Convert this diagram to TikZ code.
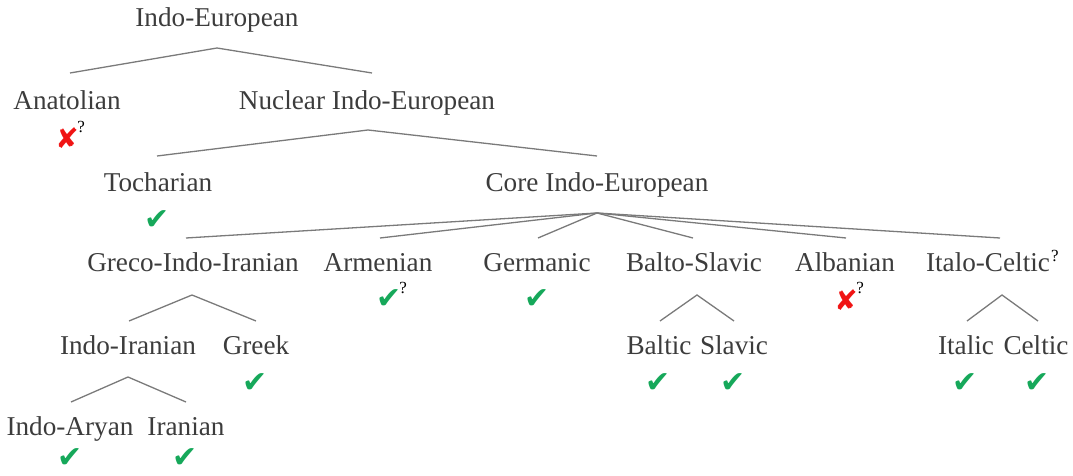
\documentclass[tikz,border=0pt]{standalone}
\usepackage{fontspec}
\setmainfont{Liberation Serif}
\newfontfamily\symfont{DejaVu Sans}
\definecolor{txtgray}{HTML}{3C3C3C}
\definecolor{linegray}{HTML}{7A7A7A}
\definecolor{okgreen}{HTML}{16A85A}
\definecolor{badred}{HTML}{F01414}
\tikzset{
  lang/.style={anchor=base, inner sep=0pt, text=txtgray, font=\fontsize{13.6}{16}\selectfont},
  yes/.style={inner sep=0pt, text=okgreen, font=\symfont\fontsize{15}{17}\selectfont},
  no/.style={inner sep=0pt, text=badred, font=\symfont\fontsize{14}{16}\selectfont},
  unsure/.style={anchor=base west, inner sep=0pt, text=black, font=\fontsize{8.5}{10}\selectfont},
  branch/.style={draw=linegray, line width=0.65pt},
}
\begin{document}
\begin{tikzpicture}[x=0.5pt, y=-0.5pt]
\useasboundingbox (0,0) rectangle (1073,476);

% language names
\node[lang] (ie)    at (217,27)  {Indo-European};
\node[lang] (anat)  at (67,110)  {Anatolian};
\node[lang] (nie)   at (367,110) {Nuclear Indo-European};
\node[lang] (toch)  at (158,192) {Tocharian};
\node[lang] (cie)   at (597,192) {Core Indo-European};
\node[lang] (gii)   at (193,272) {Greco-Indo-Iranian};
\node[lang] (arm)   at (378,272) {Armenian};
\node[lang] (germ)  at (537,272) {Germanic};
\node[lang] (bsl)   at (694,272) {Balto-Slavic};
\node[lang] (alb)   at (845,272) {Albanian};
\node[lang] (itc)   at (988,272) {Italo-Celtic};
\node[lang] (iir)   at (128,355) {Indo-Iranian};
\node[lang] (grk)   at (256,355) {Greek};
\node[lang] (balt)  at (659,355) {Baltic};
\node[lang] (slav)  at (734,355) {Slavic};
\node[lang] (ital)  at (966,355) {Italic};
\node[lang] (celt)  at (1036,355) {Celtic};
\node[lang] (inar)  at (70,436)  {Indo-Aryan};
\node[lang] (iran)  at (186,436) {Iranian};
\node[unsure] (itcq) at ([xshift=0.2pt,yshift=5pt]itc.base east) {?};

% marks
\node[no]  (anatm) at (67,138)  {✘};
\node[unsure] (anatq) at (77,133) {?};
\node[yes] (tochm) at (157,220) {✔};
\node[yes] (armm)  at (389,299) {✔};
\node[unsure] (armq) at (399,294) {?};
\node[yes] (germm) at (537,299) {✔};
\node[no]  (albm)  at (846,300) {✘};
\node[unsure] (albq) at (856,294) {?};
\node[yes] (grkm)  at (255,383) {✔};
\node[yes] (baltm) at (658,383) {✔};
\node[yes] (slavm) at (733,383) {✔};
\node[yes] (italm) at (965,383) {✔};
\node[yes] (celtm) at (1037,383) {✔};
\node[yes] (inarm) at (70,458)  {✔};
\node[yes] (iranm) at (185,458) {✔};

% branch points and branch ends
\coordinate (ie-j)   at (217,48);
\coordinate (anat-t) at (70,73);
\coordinate (nie-t)  at (372,73);
\coordinate (nie-j)  at (368,130);
\coordinate (toch-t) at (157,156);
\coordinate (cie-t)  at (597,156);
\coordinate (cie-j)  at (597,213);
\coordinate (gii-t)  at (186,238);
\coordinate (arm-t)  at (380,238);
\coordinate (germ-t) at (538,238);
\coordinate (bsl-t)  at (693,238);
\coordinate (alb-t)  at (846,238);
\coordinate (itc-t)  at (1000,238);
\coordinate (gii-j)  at (192,295);
\coordinate (iir-t)  at (129,321);
\coordinate (grk-t)  at (256,321);
\coordinate (bsl-j)  at (697,295);
\coordinate (balt-t) at (660,321);
\coordinate (slav-t) at (734,321);
\coordinate (itc-j)  at (1002,295);
\coordinate (ital-t) at (967,321);
\coordinate (celt-t) at (1038,321);
\coordinate (iir-j)  at (128,377);
\coordinate (inar-t) at (71,402);
\coordinate (iran-t) at (186,402);

% branches
\draw[branch] (anat-t) -- (ie-j) -- (nie-t);
\draw[branch] (toch-t) -- (nie-j) -- (cie-t);
\foreach \c in {gii-t,arm-t,germ-t,bsl-t,alb-t,itc-t}
  \draw[branch] (cie-j) -- (\c);
\draw[branch] (iir-t) -- (gii-j) -- (grk-t);
\draw[branch] (balt-t) -- (bsl-j) -- (slav-t);
\draw[branch] (ital-t) -- (itc-j) -- (celt-t);
\draw[branch] (inar-t) -- (iir-j) -- (iran-t);
\end{tikzpicture}
\end{document}
